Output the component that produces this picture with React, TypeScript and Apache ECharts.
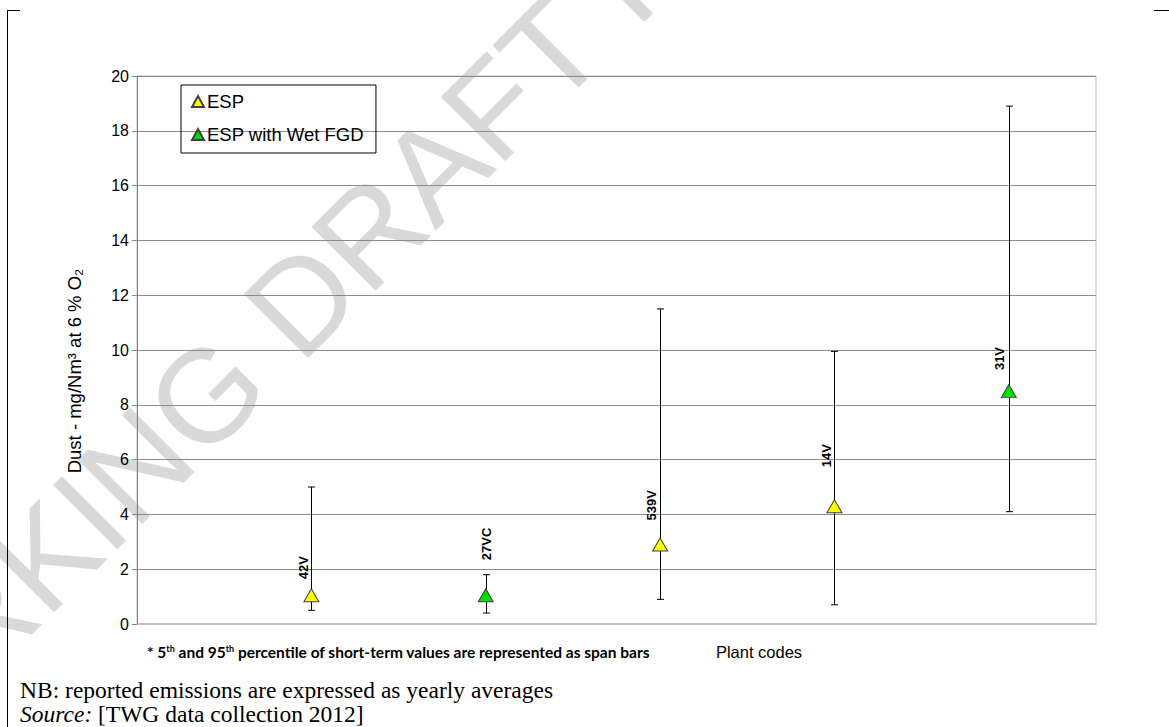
import React, { useEffect, useRef } from "react";
import * as echarts from "echarts";

// ---- data ----
const plantCodes = ["42V", "27VC", "539V", "14V", "31V"];
const plantPositions = [1, 2, 3, 4, 5];
const techniques = ["ESP", "ESP with Wet FGD", "ESP", "ESP", "ESP with Wet FGD"];
const yearlyAverage = [1.05, 1.05, 2.9, 4.3, 8.5];
const percentile5 = [0.5, 0.4, 0.9, 0.7, 4.1];
const percentile95 = [5.0, 1.8, 11.5, 9.95, 18.9];
const yTicks = { min: 0, max: 20, interval: 2 };

// label layout (pixels, relative to the marker)
const labelDx = [-8, 1, -9, -8, -9];
const labelDy = [-16, -35, -24, -39, -21];

const SANS = "'Liberation Sans', Arial, sans-serif";
const SERIF = "'Liberation Serif', 'Times New Roman', serif";

export default function App() {
  const ref = useRef<HTMLDivElement>(null);

  useEffect(() => {
    if (!ref.current) return;
    const chart = echarts.init(ref.current, undefined, { renderer: "svg" });

    const espData: any[] = [];
    const fgdData: any[] = [];
    plantCodes.forEach((code, i) => {
      const pt = [plantPositions[i], yearlyAverage[i]];
      if (techniques[i] === "ESP") espData.push(pt);
      else fgdData.push(pt);
    });
    const barData = plantCodes.map((_, i) => [plantPositions[i], percentile5[i], percentile95[i]]);
    const labelData = plantCodes.map((_, i) => [plantPositions[i], yearlyAverage[i], i]);

    const txt = (extra: any) => ({
      fill: "#000",
      stroke: "none",
      lineWidth: 0,
      align: "left",
      textAlign: "left",
      verticalAlign: "middle",
      textVerticalAlign: "middle",
      ...extra,
    });

    const option: any = {
      animation: false,
      grid: {
        left: 137,
        right: 73,
        top: 76,
        bottom: 103,
        show: true,
        borderColor: "#bdbdbd",
        borderWidth: 1,
      },
      legend: {
        orient: "vertical",
        left: 181,
        top: 85,
        padding: [7, 12, 9, 10],
        itemGap: 14,
        itemWidth: 12,
        itemHeight: 11,
        borderColor: "#000",
        borderWidth: 1,
        icon: "triangle",
        data: ["ESP", "ESP with Wet FGD"],
        textStyle: { fontFamily: SANS, fontSize: 18.5, color: "#000", lineHeight: 18, padding: [0, 0, 0, -2] },
      },
      xAxis: {
        type: "value",
        min: 0,
        max: 5.5,
        axisLine: { show: true, lineStyle: { color: "#c0c0c0", width: 2 } },
        axisTick: { show: false },
        axisLabel: { show: false },
        splitLine: { show: false },
      },
      yAxis: {
        type: "value",
        min: yTicks.min,
        max: yTicks.max,
        interval: yTicks.interval,
        axisLine: { show: true, lineStyle: { color: "#868686", width: 1 } },
        axisTick: { show: true, length: 5, lineStyle: { color: "#868686" } },
        axisLabel: { fontFamily: SANS, fontSize: 16, color: "#000", margin: 8 },
        splitLine: { show: true, lineStyle: { color: "#8c8c8c", width: 1 } },
      },
      series: [
        {
          type: "custom",
          name: "span",
          silent: true,
          z: 3,
          data: barData,
          renderItem: (params: any, api: any) => {
            const x = api.value(0);
            const lo = api.coord([x, api.value(1)]);
            const hi = api.coord([x, api.value(2)]);
            const cx = Math.round(lo[0]) + 0.5;
            const cap = 3.5;
            const st = { stroke: "#000", lineWidth: 1 };
            return {
              type: "group",
              children: [
                { type: "line", shape: { x1: cx, y1: lo[1], x2: cx, y2: hi[1] }, style: st },
                { type: "line", shape: { x1: cx - cap, y1: lo[1], x2: cx + cap, y2: lo[1] }, style: st },
                { type: "line", shape: { x1: cx - cap, y1: hi[1], x2: cx + cap, y2: hi[1] }, style: st },
              ],
            };
          },
        },
        {
          type: "scatter",
          name: "ESP",
          symbol: "triangle",
          symbolSize: [15, 13],
          z: 5,
          itemStyle: { color: "#ffff00", borderColor: "#404040", borderWidth: 1, opacity: 1 },
          data: espData,
        },
        {
          type: "scatter",
          name: "ESP with Wet FGD",
          symbol: "triangle",
          symbolSize: [15, 13],
          z: 5,
          itemStyle: { color: "#00e000", borderColor: "#404040", borderWidth: 1, opacity: 1 },
          data: fgdData,
        },
        {
          type: "custom",
          name: "labels",
          silent: true,
          z: 6,
          data: labelData,
          renderItem: (params: any, api: any) => {
            const i = api.value(2);
            const p = api.coord([api.value(0), api.value(1)]);
            return {
              type: "text",
              x: p[0] + labelDx[i],
              y: p[1] + labelDy[i],
              rotation: Math.PI / 2,
              style: txt({ text: plantCodes[i], font: `bold 13px ${SANS}` }),
            };
          },
        },
      ],
      graphic: [
        {
          type: "text",
          z: -10,
          x: 519,
          y: 83,
          rotation: Math.PI / 4,
          silent: true,
          style: txt({
            text: "WORKING DRAFT IN PROGRESS",
            fill: "#d9d9d9",
            font: `132px ${SANS}`,
            align: "center",
            textAlign: "center",
          }),
        },
        {
          type: "text",
          x: 74,
          y: 371,
          rotation: Math.PI / 2,
          style: txt({
            text: "Dust - mg/Nm³ at 6 % O₂",
            font: `18.5px ${SANS}`,
            align: "center",
            textAlign: "center",
          }),
        },
        {
          type: "text",
          x: 147,
          y: 652,
          style: txt({
            text: "* 5{s|th} and 95{s|th} percentile of short-term values are represented as span bars",
            font: `bold 15.5px Lato, 'Open Sans', sans-serif`,
            rich: {
              s: { fontSize: 9, fontWeight: "bold", fontFamily: "Lato, 'Open Sans', sans-serif", verticalAlign: "top", fill: "#000" },
            },
          }),
        },
        {
          type: "text",
          x: 759,
          y: 652,
          style: txt({ text: "Plant codes", font: `16.5px ${SANS}`, align: "center", textAlign: "center" }),
        },
        {
          type: "text",
          x: 20,
          y: 690,
          style: txt({ text: "NB: reported emissions are expressed as yearly averages", font: `23.5px ${SERIF}` }),
        },
        {
          type: "text",
          x: 20,
          y: 714,
          style: txt({ text: "Source:", font: `italic 23.5px ${SERIF}` }),
        },
        {
          type: "text",
          x: 98,
          y: 714,
          style: txt({ text: "[TWG data collection 2012]", font: `23.5px ${SERIF}` }),
        },
        { type: "line", shape: { x1: 7.5, y1: 10, x2: 7.5, y2: 727 }, style: { stroke: "#000", lineWidth: 1 } },
        { type: "line", shape: { x1: 7, y1: 10.5, x2: 20, y2: 10.5 }, style: { stroke: "#000", lineWidth: 1 } },
        { type: "line", shape: { x1: 1154, y1: 10.5, x2: 1169, y2: 10.5 }, style: { stroke: "#000", lineWidth: 1 } },
      ],
    };

    chart.setOption(option);
    return () => chart.dispose();
  }, []);

  return (
    <div
      ref={ref}
      style={{ position: "absolute", left: 0, top: 0, width: 1169, height: 727, background: "#fff" }}
    />
  );
}
